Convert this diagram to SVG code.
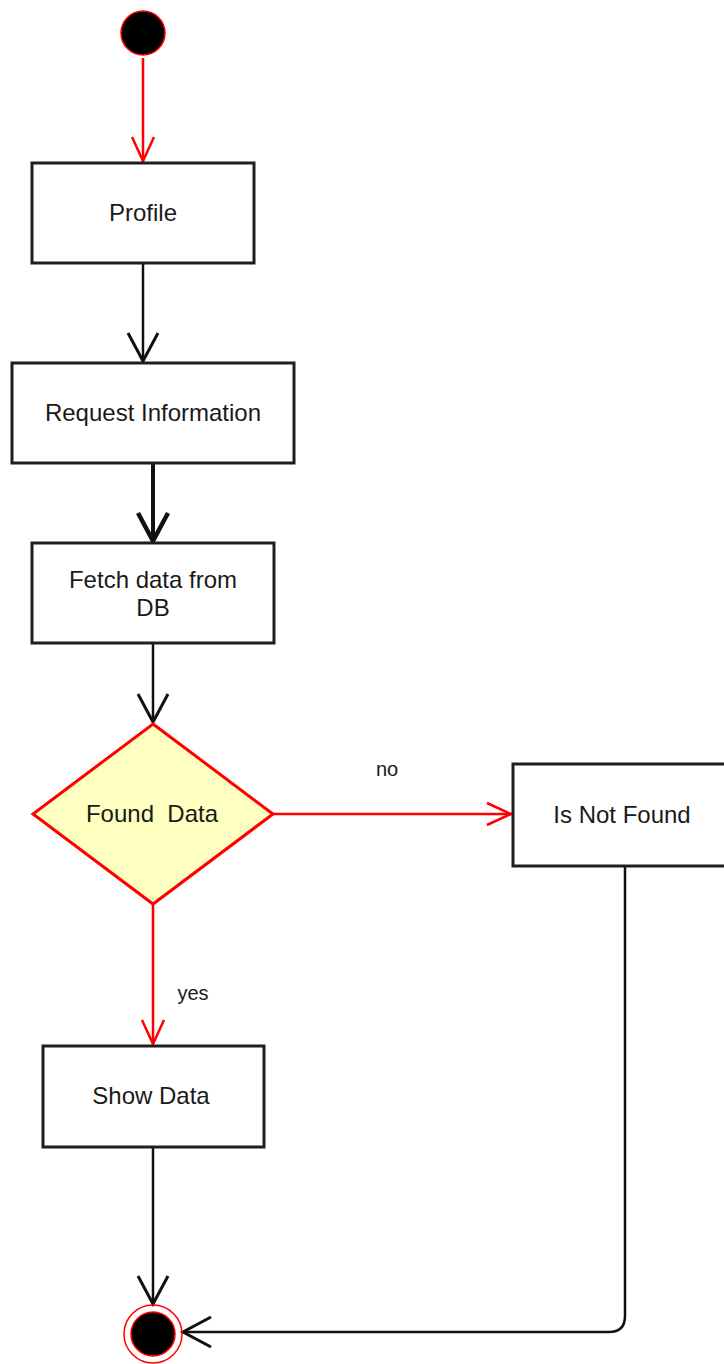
<svg xmlns="http://www.w3.org/2000/svg" width="724" height="1364" viewBox="0 0 724 1364">
  <style>
    .box { fill: #ffffff; stroke: #1e1e1e; stroke-width: 3; }
    .lbl { font-family: "Liberation Sans", Arial, sans-serif; font-size: 24px; fill: #1a1a1a; text-anchor: middle; }
    .small { font-family: "Liberation Sans", Arial, sans-serif; font-size: 20px; fill: #1a1a1a; text-anchor: middle; }
    .blk { fill: none; stroke: #111111; stroke-width: 2.5; }
    .blkThick { fill: none; stroke: #111111; stroke-width: 4; }
    .red { fill: none; stroke: #ff0000; stroke-width: 2.5; }
  </style>
  <defs>
    <marker id="arrBlack" markerUnits="userSpaceOnUse" markerWidth="40" markerHeight="40" refX="30" refY="20" orient="auto" overflow="visible">
      <path d="M2,5 L30,20 L2,35" fill="none" stroke="#111111" stroke-width="3"/>
    </marker>
    <marker id="arrBlackThick" markerUnits="userSpaceOnUse" markerWidth="40" markerHeight="40" refX="30" refY="20" orient="auto" overflow="visible">
      <path d="M2,5 L30,20 L2,35" fill="none" stroke="#111111" stroke-width="4.5"/>
    </marker>
    <marker id="arrRed" markerUnits="userSpaceOnUse" markerWidth="40" markerHeight="40" refX="26" refY="20" orient="auto" overflow="visible">
      <path d="M2,9 L26,20 L2,31" fill="none" stroke="#ff0000" stroke-width="2.5"/>
    </marker>
  </defs>

  <g id="connectors">
    <path class="red" d="M143 58 V161" marker-end="url(#arrRed)"/>
    <path class="blk" d="M143 263 V361" marker-end="url(#arrBlack)"/>
    <path class="blkThick" d="M153 463 V541" marker-end="url(#arrBlackThick)"/>
    <path class="blk" d="M153 643 V722" marker-end="url(#arrBlack)"/>
    <path class="red" d="M273 814 H511" marker-end="url(#arrRed)"/>
    <path class="red" d="M153 904 V1044" marker-end="url(#arrRed)"/>
    <path class="blk" d="M153 1147 V1304" marker-end="url(#arrBlack)"/>
    <path class="blk" d="M625 866 V1316 Q625 1332 609 1332 H183" marker-end="url(#arrBlack)"/>
    <text class="small" x="387" y="776">no</text>
    <text class="small" x="193" y="1000">yes</text>
  </g>

  <g id="start">
    <circle cx="143" cy="33" r="22" fill="#000000" stroke="#ff0000" stroke-width="1.5"/>
  </g>

  <g id="profile">
    <rect class="box" x="32" y="163" width="222" height="100"/>
    <text class="lbl" x="143" y="221">Profile</text>
  </g>

  <g id="request">
    <rect class="box" x="12" y="363" width="282" height="100"/>
    <text class="lbl" x="153" y="421">Request Information</text>
  </g>

  <g id="fetch">
    <rect class="box" x="32" y="543" width="242" height="100"/>
    <text class="lbl" x="153" y="588">Fetch data from</text>
    <text class="lbl" x="153" y="616">DB</text>
  </g>

  <g id="found">
    <polygon points="153,724 273,814 153,904 33,814" fill="#ffffc0" stroke="#ff0000" stroke-width="3"/>
    <text class="lbl" x="152" y="822" xml:space="preserve">Found  Data</text>
  </g>

  <g id="notfound">
    <rect class="box" x="513" y="764" width="220" height="102"/>
    <text class="lbl" x="622" y="823">Is Not Found</text>
  </g>

  <g id="show">
    <rect class="box" x="43" y="1046" width="221" height="101"/>
    <text class="lbl" x="151" y="1104">Show Data</text>
  </g>

  <g id="end">
    <circle cx="153" cy="1334" r="29" fill="none" stroke="#ff0000" stroke-width="1.5"/>
    <circle cx="153" cy="1334" r="22" fill="#000000" stroke="#ff0000" stroke-width="1.5"/>
  </g>
</svg>
